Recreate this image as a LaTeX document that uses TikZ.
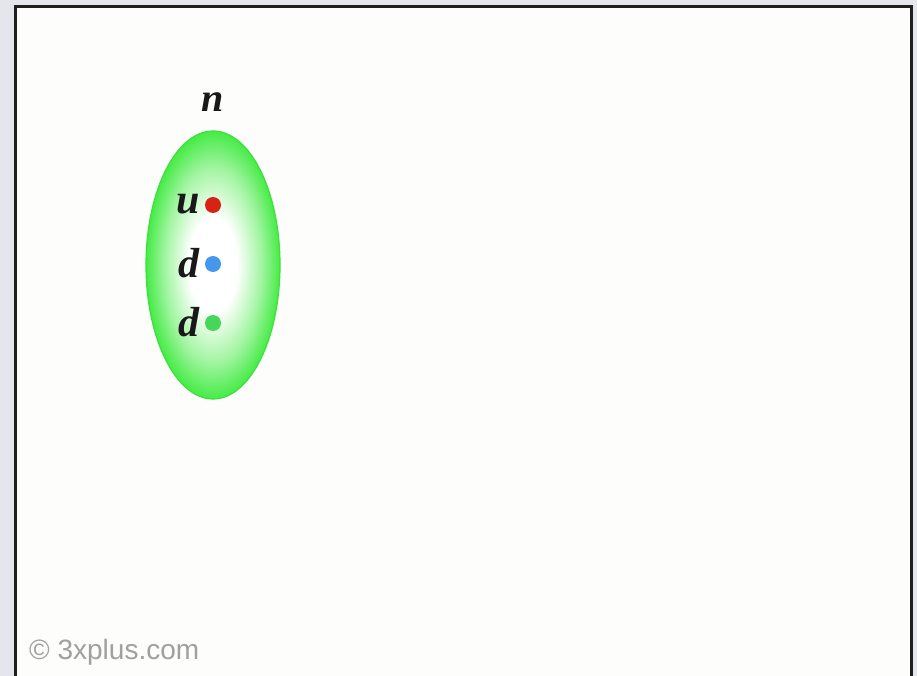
\documentclass[tikz,border=0pt]{standalone}
\usepackage{fontspec}
\setmainfont{Liberation Serif}
\newfontfamily\wmfont{Liberation Sans}
\usetikzlibrary{shapes.geometric}
\definecolor{outerbg}{RGB}{228,230,236}
\definecolor{panelbg}{RGB}{253,253,251}
\definecolor{framec}{RGB}{30,30,30}
\definecolor{hadron}{RGB}{70,235,70}
\definecolor{hadronedge}{RGB}{60,225,60}
\definecolor{qred}{RGB}{215,35,20}
\definecolor{qblue}{RGB}{70,150,235}
\definecolor{qgreen}{RGB}{70,215,90}
\definecolor{wmgray}{RGB}{160,160,160}
\pgfdeclareradialshading{hadronshade}{\pgfpoint{0bp}{0bp}}{%
  color(0bp)=(white); color(9bp)=(white); color(18bp)=(hadron!50!white);
  color(25bp)=(hadron); color(50bp)=(hadron)}
\tikzset{
  quark/.style={circle, inner sep=0pt, minimum size=16pt},
  qlabel/.style={font=\fontsize{42}{42}\selectfont\bfseries\itshape, inner sep=0pt, text=black!90},
  hlabel/.style={font=\fontsize{40}{40}\selectfont\bfseries\itshape, inner sep=0pt, text=black!90},
}
\begin{document}
\begin{tikzpicture}[x=1pt,y=-1pt]
\useasboundingbox (0,0) rectangle (917,676);
\fill[outerbg] (0,0) rectangle (917,676);
\draw[framec, line width=2.5pt, fill=panelbg] (15.5,6.5) -- (911.5,6.5) -- (911.5,690) -- (15.5,690) -- cycle;
% hadron
\node[ellipse, draw=hadronedge, line width=1.2pt, minimum width=134pt, minimum height=268pt, inner sep=0pt,
      shading=hadronshade] (hadron) at (213,265) {};
\node[hlabel] (nlab) at (213,102) {n};
% quarks
\node[quark, fill=qred] (q1) at (213,205) {};
\node[quark, fill=qblue] (q2) at (213,264) {};
\node[quark, fill=qgreen] (q3) at (213,323) {};
\node[qlabel, anchor=east] (l1) at (200,204) {u};
\node[qlabel, anchor=east] (l2) at (200,263) {d};
\node[qlabel, anchor=east] (l3) at (200,322) {d};
\node[font=\wmfont\fontsize{28}{28}\selectfont, text=wmgray, anchor=west, inner sep=0pt] (wm) at (29,652) {© 3xplus.com};
\end{tikzpicture}
\end{document}
